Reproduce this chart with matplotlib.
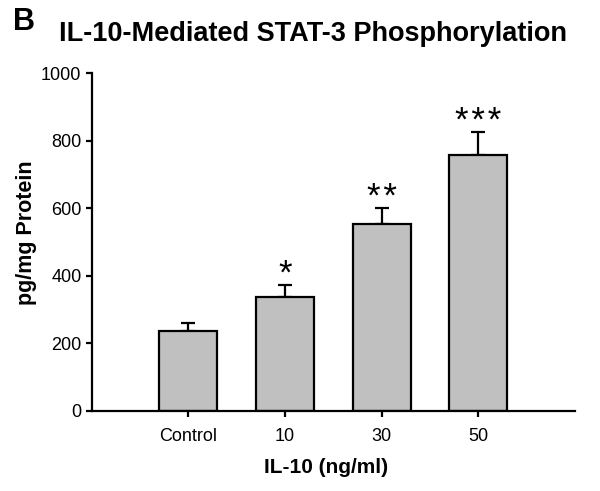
import matplotlib
matplotlib.use("Agg")
import matplotlib.pyplot as plt

plt.rcParams['font.family'] = ['Liberation Sans', 'DejaVu Sans']

groups = ["Control", "10", "30", "50"]
means = [238, 337, 552, 757]
errs = [22, 37, 49, 69]
stars = ["", "*", "*\u200a*", "*\u200a*\u200a*"]

fig = plt.figure(figsize=(6.0, 4.91), dpi=100)
ax = fig.add_axes([0.153, 0.163, 0.805, 0.688])

x = list(range(len(groups)))
ax.bar(x, means, width=0.6, color="#c0c0c0", edgecolor="black", linewidth=1.6, zorder=2)
ax.errorbar(x, means, yerr=[[0] * len(errs), errs], fmt="none", ecolor="black",
            elinewidth=1.6, capsize=5, capthick=1.6, zorder=1)
for xi, m, e, s in zip(x, means, errs, stars):
    if s:
        ax.annotate(s, (xi, m + e), xytext=(0, 1), textcoords="offset points",
                    ha="center", va="baseline", fontsize=25)

ax.set_xlim(-1, 4)
ax.set_ylim(0, 1000)
ax.set_yticks([0, 200, 400, 600, 800, 1000])
ax.set_xticks(x)
ax.set_xticklabels(groups)
for s in ["top", "right"]:
    ax.spines[s].set_visible(False)
for s in ["left", "bottom"]:
    ax.spines[s].set_linewidth(1.6)
ax.tick_params(axis="both", labelsize=13, width=1.6, length=4, direction="out")
ax.tick_params(axis="x", pad=8)
ax.set_xlabel("IL-10 (ng/ml)", fontsize=15, fontweight="bold")
ax.xaxis.set_label_coords(0.485, -0.14)
ax.set_ylabel("pg/mg Protein", fontsize=15.5, fontweight="bold")
ax.yaxis.set_label_coords(-0.114, 0.527)

fig.text(0.022, 0.955, "B", fontsize=22, fontweight="bold", va="center")
fig.text(0.098, 0.93, "IL-10-Mediated STAT-3 Phosphorylation", fontsize=19.5,
         fontweight="bold", va="center")

fig.savefig("out.png", dpi=100)
